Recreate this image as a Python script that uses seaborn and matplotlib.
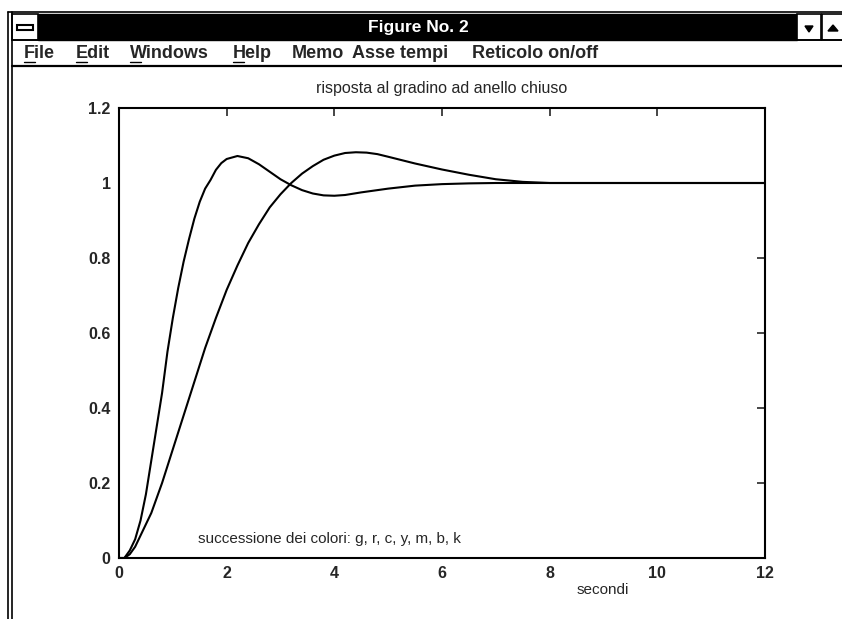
import pandas as pd
import matplotlib
matplotlib.use("Agg")
import matplotlib.pyplot as plt
import seaborn as sns
from matplotlib.patches import Rectangle, Polygon
from matplotlib.lines import Line2D

# curve (risposta al gradino, due regolatori)
t_fast = [0, 0.1, 0.2, 0.3, 0.4, 0.5, 0.6, 0.7, 0.8, 0.9, 1.0, 1.1, 1.2, 1.3, 1.4,
          1.5, 1.6, 1.7, 1.8, 1.9, 2.0, 2.2, 2.4, 2.6, 2.8, 3.0, 3.2, 3.4, 3.6, 3.8,
          4.0, 4.2, 4.5, 5.0, 5.5, 6.0, 6.5, 7.0, 8.0, 9.0, 10.0, 11.0, 12.0]
y_fast = [0, 0.0, 0.02, 0.05, 0.1, 0.17, 0.26, 0.35, 0.44, 0.55, 0.64, 0.72, 0.79, 0.85, 0.905,
          0.95, 0.985, 1.008, 1.035, 1.053, 1.064, 1.072, 1.066, 1.05, 1.03, 1.01, 0.994, 0.981, 0.972, 0.967,
          0.966, 0.968, 0.975, 0.985, 0.993, 0.997, 0.999, 1.0, 1.0, 1.0, 1.0, 1.0, 1.0]

t_slow = [0, 0.1, 0.2, 0.3, 0.4, 0.5, 0.6, 0.7, 0.8, 0.9, 1.0, 1.1, 1.2, 1.3, 1.4,
          1.5, 1.6, 1.7, 1.8, 2.0, 2.2, 2.4, 2.6, 2.8, 3.0, 3.2, 3.4, 3.6, 3.8, 4.0,
          4.2, 4.4, 4.6, 4.8, 5.0, 5.5, 6.0, 6.5, 7.0, 7.5, 8.0, 9.0, 10.0, 11.0, 12.0]
y_slow = [0, 0.0, 0.01, 0.03, 0.06, 0.09, 0.12, 0.16, 0.2, 0.245, 0.29, 0.335, 0.38, 0.425, 0.47,
          0.515, 0.56, 0.6, 0.64, 0.715, 0.78, 0.84, 0.89, 0.935, 0.97, 1.0, 1.025, 1.045, 1.062, 1.073,
          1.08, 1.082, 1.081, 1.077, 1.07, 1.052, 1.036, 1.022, 1.01, 1.003, 1.0, 1.0, 1.0, 1.0, 1.0]

x_ticks = [0, 2, 4, 6, 8, 10, 12]
x_tick_labels = ["0", "2", "4", "6", "8", "10", "12"]
y_ticks = [0, 0.2, 0.4, 0.6, 0.8, 1.0, 1.2]
y_tick_labels = ["0", "0.2", "0.4", "0.6", "0.8", "1", "1.2"]

titolo = "risposta al gradino ad anello chiuso"
nota = "successione dei colori: g, r, c, y, m, b, k"
menu_items = ["File", "Edit", "Windows", "Help", "Memo", "Asse tempi", "Reticolo on/off"]
menu_x = [24, 76, 130, 233, 292, 352, 472]          # posizione in pixel
menu_under = [True, True, True, True, False, False, False]

df = pd.concat([
    pd.DataFrame({"t": t_fast, "y": y_fast, "curva": "veloce"}),
    pd.DataFrame({"t": t_slow, "y": y_slow, "curva": "lenta"}),
])

sns.set_style("white")
plt.rcParams["font.family"] = ["Liberation Sans", "DejaVu Sans"]

W, H = 842, 619
fig = plt.figure(figsize=(W / 100, H / 100), dpi=100)
fig.patch.set_facecolor("white")

# cornice della finestra (coordinate in pixel, y verso il basso)
cr = fig.add_axes([0, 0, 1, 1], zorder=0)
cr.set_xlim(0, W)
cr.set_ylim(H, 0)
cr.axis("off")
cr.patch.set_alpha(0)

cr.add_line(Line2D([8, W], [12, 12], color="black", lw=1.2))
cr.add_line(Line2D([8, 8], [12, H], color="black", lw=1.2))
cr.add_line(Line2D([12, 12], [12, H], color="black", lw=1.2))
cr.add_patch(Rectangle((38, 14), 797 - 38, 26, facecolor="black", edgecolor="black"))
cr.add_patch(Rectangle((12, 14), 26, 26, facecolor="white", edgecolor="black", lw=1.2))
cr.add_patch(Rectangle((17, 25), 16, 5, facecolor="white", edgecolor="black", lw=1.5))
cr.add_patch(Rectangle((797, 14), 24, 26, facecolor="white", edgecolor="black", lw=1.2))
cr.add_patch(Rectangle((822, 14), 22, 26, facecolor="white", edgecolor="black", lw=1.2))
cr.add_patch(Polygon([(805, 26), (813, 26), (809, 32)], closed=True, color="black"))
cr.add_patch(Polygon([(828, 31), (838, 31), (833, 25)], closed=True, color="black"))
cr.text(418, 27.5, "Figure No. 2", color="white", fontsize=12.5, fontweight="bold",
        ha="center", va="center")
cr.add_line(Line2D([12, W], [40, 40], color="black", lw=1.2))
cr.add_line(Line2D([12, W], [66, 66], color="black", lw=1.6))

for name, x, und in zip(menu_items, menu_x, menu_under):
    cr.text(x, 53, name, fontsize=13, fontweight="bold", ha="left", va="center")
    if und:
        cr.add_line(Line2D([x, x + 11], [62, 62], color="black", lw=1.0))

# grafico
ax = fig.add_axes([119 / W, (H - 558) / H, 646 / W, 450 / H], zorder=1)
sns.lineplot(data=df, x="t", y="y", hue="curva", palette=["black", "black"],
             sort=False, estimator=None, legend=False, lw=1.5, ax=ax)

ax.set_xlim(0, 12)
ax.set_ylim(0, 1.2)
ax.set_xticks(x_ticks)
ax.set_xticklabels(x_tick_labels)
ax.set_yticks(y_ticks)
ax.set_yticklabels(y_tick_labels)
ax.tick_params(direction="in", length=6, width=1.2, top=True, right=True,
               labelsize=11.5, pad=6)
for lab in ax.get_xticklabels() + ax.get_yticklabels():
    lab.set_fontweight("bold")
for sp in ax.spines.values():
    sp.set_visible(True)
    sp.set_linewidth(1.5)
    sp.set_color("black")

ax.set_title(titolo, fontsize=11.5, pad=11)
ax.set_xlabel("secondi", fontsize=11)
ax.xaxis.set_label_coords((603 - 119) / 646, -0.055)
ax.set_ylabel("")
ax.text(1.47, 0.05, nota, fontsize=11, va="center", ha="left")

fig.savefig("out.png", dpi=100)
